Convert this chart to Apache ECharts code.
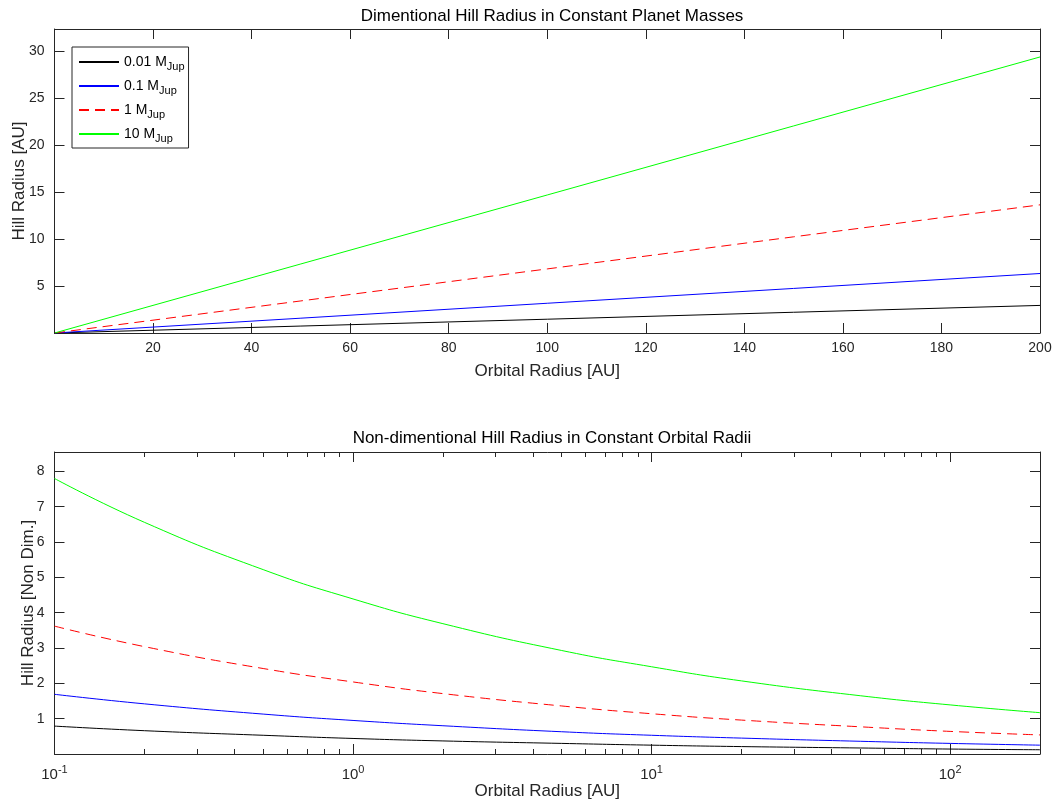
<!DOCTYPE html>
<html>
<head>
<meta charset="utf-8">
<script src="https://cdn.jsdelivr.net/npm/echarts@6/dist/echarts.min.js"></script>
<style>
html,body{margin:0;padding:0;background:#fff;}
#chart{width:1063px;height:809px;}
</style>
</head>
<body>
<div id="chart"></div>
<script>
// ---- Data ----
const seriesNames = ['0.01', '0.1', '1', '10'];
const seriesColors = ['#000000', '#0000ff', '#ff0000', '#00ff00'];

// Top panel: Hill radius [AU] vs orbital radius [AU]
const topX = [0.1, 50, 100, 150, 200];
const topBlack = [0.0015, 0.74, 1.47, 2.21, 2.94];
const topBlue  = [0.0032, 1.58, 3.17, 4.75, 6.34];
const topRed   = [0.0068, 3.42, 6.83, 10.25, 13.66];
const topGreen = [0.0147, 7.36, 14.71, 22.07, 29.42];

// Bottom panel: non-dimensional Hill radius vs orbital radius (log x)
const botX = [0.1, 0.2, 0.5, 1, 2, 5, 10, 20, 50, 100, 200];
const botBlack = [0.79, 0.66, 0.53, 0.44, 0.37, 0.30, 0.25, 0.21, 0.17, 0.14, 0.12];
const botBlue  = [1.69, 1.42, 1.13, 0.95, 0.80, 0.63, 0.53, 0.45, 0.36, 0.30, 0.25];
const botRed   = [3.62, 3.04, 2.42, 2.04, 1.71, 1.36, 1.14, 0.96, 0.77, 0.64, 0.54];
const botGreen = [7.80, 6.56, 5.22, 4.39, 3.69, 2.93, 2.47, 2.07, 1.65, 1.39, 1.17];

// ---- Chart ----
const FONT = "'Liberation Sans', Arial, Helvetica, sans-serif";
const AX = '#262626';
const TICK_FS = 14;
const NAME_FS = 17;
const chart = echarts.init(document.getElementById('chart'), null, {renderer: 'canvas'});

function pairs(xs, ys) { return xs.map((x, i) => [x, ys[i]]); }

const topData = [topBlack, topBlue, topRed, topGreen];
const botData = [botBlack, botBlue, botRed, botGreen];

const series = [];
seriesNames.forEach((n, i) => {
  series.push({
    name: n, type: 'line', xAxisIndex: 0, yAxisIndex: 0,
    data: pairs(topX, topData[i]), symbol: 'none', showSymbol: false,
    lineStyle: {color: seriesColors[i], width: 1, type: i === 2 ? [10, 6] : 'solid'},
    itemStyle: {color: seriesColors[i]},
    animation: false, silent: true
  });
});
seriesNames.forEach((n, i) => {
  series.push({
    name: n, type: 'line', xAxisIndex: 2, yAxisIndex: 2, smooth: true,
    data: pairs(botX, botData[i]), symbol: 'none', showSymbol: false,
    lineStyle: {color: seriesColors[i], width: 1, type: i === 2 ? [10, 6] : 'solid'},
    itemStyle: {color: seriesColors[i]},
    animation: false, silent: true
  });
});

const labelStyle = {color: AX, fontFamily: FONT, fontSize: TICK_FS};
const nameStyle = {fontFamily: FONT, fontSize: NAME_FS, color: AX};
const hideZero = v => (v === 0 ? '' : String(v));

function logLabel(v) {
  const e = Math.log10(v);
  const r = Math.round(e);
  if (Math.abs(e - r) > 1e-6) return '';
  return '{b|10}{s|' + r + '}';
}

const lineAx = {show: true, onZero: false, lineStyle: {color: AX, width: 1}};
const tickAx = {show: true, inside: true, length: 10, lineStyle: {color: AX}};

const option = {
  backgroundColor: '#ffffff',
  animation: false,
  title: [
    {text: 'Dimentional Hill Radius in Constant Planet Masses', left: 547, top: 3, textAlign: 'center',
     textStyle: {fontFamily: FONT, fontSize: NAME_FS, fontWeight: 'normal', color: '#000'}},
    {text: 'Non-dimentional Hill Radius in Constant Orbital Radii', left: 547, top: 425, textAlign: 'center',
     textStyle: {fontFamily: FONT, fontSize: NAME_FS, fontWeight: 'normal', color: '#000'}}
  ],
  legend: {
    data: seriesNames, orient: 'vertical', left: 72, top: 47,
    backgroundColor: '#fff', borderColor: AX, borderWidth: 1, borderRadius: 0,
    padding: [5, 4, 4, 6], itemGap: 4, itemWidth: 40, itemHeight: 14,
    itemStyle: {opacity: 0},
    formatter: n => '{a|' + n + ' M}{s|Jup}',
    textStyle: {fontFamily: FONT, color: '#000', rich: {
      a: {fontFamily: FONT, fontSize: 14, color: '#000', lineHeight: 20},
      s: {fontFamily: FONT, fontSize: 11, color: '#000', verticalAlign: 'bottom', padding: [9, 0, 0, 0], lineHeight: 20}
    }}
  },
  grid: [
    {left: 54.5, right: 23, top: 29, height: 304, containLabel: false, outerBoundsMode: 'none'},
    {left: 54.5, right: 23, top: 452, height: 302, containLabel: false, outerBoundsMode: 'none'}
  ],
  xAxis: [
    {type: 'value', gridIndex: 0, min: 0, max: 200, interval: 20, position: 'bottom',
     name: 'Orbital Radius [AU]', nameLocation: 'middle', nameGap: 30, nameMoveOverlap: false,
     nameTextStyle: nameStyle, axisLine: lineAx, axisTick: tickAx,
     axisLabel: Object.assign({margin: 8, formatter: hideZero}, labelStyle),
     splitLine: {show: false}},
    {type: 'value', gridIndex: 0, min: 0, max: 200, interval: 20, position: 'top',
     axisLine: lineAx, axisTick: tickAx, axisLabel: {show: false}, splitLine: {show: false}},
    {type: 'log', logBase: 10, gridIndex: 1, min: 0.1, max: 200, interval: 1, position: 'bottom',
     name: 'Orbital Radius [AU]', nameLocation: 'middle', nameGap: 29, nameMoveOverlap: false,
     nameTextStyle: nameStyle, axisLine: lineAx, axisTick: tickAx,
     minorTick: {show: true, splitNumber: 9, length: 5, lineStyle: {color: AX}},
     axisLabel: {margin: 10, formatter: logLabel, color: AX, fontFamily: FONT,
       rich: {b: {fontFamily: FONT, fontSize: 15, color: AX}, s: {fontFamily: FONT, fontSize: 11, color: AX, verticalAlign: 'top', padding: [0, 0, 11, 0]}}},
     splitLine: {show: false}},
    {type: 'log', logBase: 10, gridIndex: 1, min: 0.1, max: 200, interval: 1, position: 'top',
     axisLine: lineAx, axisTick: tickAx,
     minorTick: {show: true, splitNumber: 9, length: 5, lineStyle: {color: AX}},
     axisLabel: {show: false}, splitLine: {show: false}}
  ],
  yAxis: [
    {type: 'value', gridIndex: 0, min: 0, max: 32.4, interval: 5, position: 'left',
     name: 'Hill Radius [AU]', nameLocation: 'middle', nameGap: 27, nameRotate: 90, nameMoveOverlap: false,
     nameTextStyle: nameStyle, axisLine: lineAx, axisTick: tickAx,
     axisLabel: Object.assign({margin: 10, formatter: hideZero, showMaxLabel: false}, labelStyle),
     splitLine: {show: false}},
    {type: 'value', gridIndex: 0, min: 0, max: 32.4, interval: 5, position: 'right',
     axisLine: lineAx, axisTick: tickAx, axisLabel: {show: false}, splitLine: {show: false}},
    {type: 'value', gridIndex: 1, min: 0, max: 8.55, interval: 1, position: 'left',
     name: 'Hill Radius [Non Dim.]', nameLocation: 'middle', nameGap: 18, nameRotate: 90, nameMoveOverlap: false,
     nameTextStyle: nameStyle, axisLine: lineAx, axisTick: tickAx,
     axisLabel: Object.assign({margin: 10, formatter: hideZero, showMaxLabel: false}, labelStyle),
     splitLine: {show: false}},
    {type: 'value', gridIndex: 1, min: 0, max: 8.55, interval: 1, position: 'right',
     axisLine: lineAx, axisTick: tickAx, axisLabel: {show: false}, splitLine: {show: false}}
  ],
  series: series
};
chart.setOption(option);
</script>
</body>
</html>
